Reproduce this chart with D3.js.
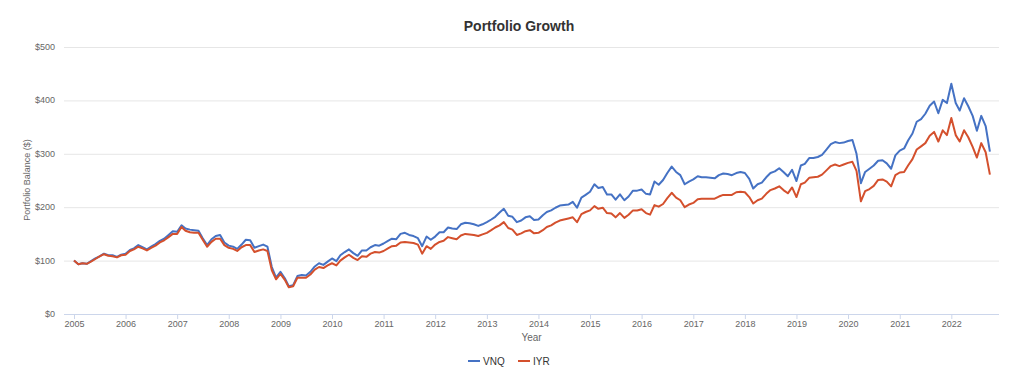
<!DOCTYPE html>
<html lang="en">
<head>
<meta charset="UTF-8">
<title>Portfolio Growth</title>
<script src="https://d3js.org/d3.v7.min.js"></script>
<style>
    body { margin: 0; padding: 0; background: #fff; font-family: "Liberation Sans", Arial, sans-serif; }
    .grid line { stroke: #e6e6e6; }
    .tick-label { font-size: 9px; fill: #666; }
    .title { font-size: 14px; font-weight: bold; fill: #333; }
    .axis-title { font-size: 9px; fill: #666; }
    .legend text { font-size: 10px; fill: #333; }
</style>
</head>
<body>
<div id="chart"></div>
<script>
    // monthly balances, first value = start of Jan 2005, one row per year
    const vnq = [
        100, 93, 95, 94, 99, 104, 108, 113, 110, 110, 107, 111,
        113, 120, 123, 129, 125, 121, 126, 131, 137, 141, 148, 155,
        154, 166, 160, 158, 157, 156, 142, 129, 140, 146, 148, 134,
        128, 126, 122, 130, 139, 138, 124, 127, 130, 126, 88, 68,
        79, 67, 52, 54, 71, 73, 72, 79, 89, 95, 92, 98,
        104, 99, 110, 116, 121, 114, 109, 119, 119, 125, 129, 128,
        132, 137, 141, 140, 150, 152, 148, 146, 142, 127, 145, 139,
        145, 153, 153, 162, 160, 159, 168, 171, 170, 168, 165, 168,
        172, 177, 182, 190, 197, 184, 182, 172, 175, 181, 183, 176,
        177, 185, 191, 194, 199, 203, 204, 205, 210, 199, 218, 223,
        229, 243, 236, 238, 224, 224, 214, 224, 213, 220, 231, 231,
        233, 225, 224, 248, 242, 251, 264, 276, 266, 260, 243, 248,
        252, 258, 256, 256, 255, 254, 260, 263, 262, 260, 264, 266,
        264, 253, 235, 243, 246, 256, 264, 267, 273, 266, 258, 270,
        249, 278, 281, 292, 292, 294, 298, 308, 318, 322, 320, 321,
        324, 326, 300, 245, 266, 272, 278, 287, 288, 282, 272, 297,
        306, 310, 325, 338, 360, 365, 375, 390, 398, 376, 401, 395,
        431, 395, 381, 404, 389, 371, 343, 371, 352, 304
    ];
    const iyr = [
        100, 93, 95, 94, 98, 103, 108, 112, 109, 108, 106, 110,
        111, 118, 121, 126, 123, 119, 124, 128, 134, 138, 144, 150,
        150, 163, 156, 153, 152, 152, 139, 126, 135, 141, 141, 129,
        124, 122, 118, 125, 129, 129, 116, 119, 121, 118, 82, 65,
        75, 64, 50, 52, 68, 68, 68, 74, 83, 88, 86, 91,
        95, 91, 100, 106, 111, 105, 101, 108, 107, 113, 116, 115,
        118, 123, 127, 128, 134, 135, 134, 133, 130, 113, 127, 122,
        130, 135, 137, 144, 142, 140, 147, 150, 149, 148, 146, 149,
        152, 157, 162, 166, 172, 161, 158, 148, 151, 155, 157, 151,
        152, 157, 163, 166, 171, 175, 177, 179, 181, 172, 187, 191,
        194, 202, 197, 199, 189, 188, 181, 189, 180, 186, 194, 194,
        196, 189, 186, 204, 201, 206, 217, 227, 218, 213, 200, 205,
        208, 215, 216, 216, 216, 216, 220, 223, 223, 223, 228, 229,
        228, 219, 207, 213, 216, 225, 232, 235, 239, 232, 226, 237,
        219, 243, 246, 255, 256, 257, 261, 269, 277, 280, 277, 280,
        283, 285, 268, 211, 230, 234, 240, 251, 252, 248, 239, 260,
        265, 266, 278, 290, 308, 314, 320, 334, 341, 323, 344, 335,
        367, 335, 323, 344, 331, 313, 293, 320, 303, 261
    ];
    const seriesNames = ["VNQ", "IYR"];
    const seriesColors = ["#4572c4", "#d4502d"];
    const yTicks = [0, 100, 200, 300, 400, 500];
    const xTickYears = d3.range(2005, 2023);

    const W = 1024, H = 375;
    const plotLeft = 64, plotRight = 999, plotTop = 47, plotBottom = 314;

    const svg = d3.select("#chart").append("svg")
        .attr("width", W).attr("height", H);

    const monthDate = i => new Date(2005, i, 1);
    const x = d3.scaleTime()
        .domain([monthDate(0), monthDate(vnq.length - 1)])
        .range([74, 74 + 4.3 * (vnq.length - 1)]);
    const y = d3.scaleLinear().domain([0, 500]).range([plotBottom, plotTop]);

    // title
    svg.append("text").attr("class", "title")
        .attr("x", 519).attr("y", 31).attr("text-anchor", "middle")
        .text("Portfolio Growth");

    // horizontal grid
    svg.append("g").attr("class", "grid")
        .selectAll("line").data(yTicks.slice(1)).join("line")
        .attr("x1", plotLeft).attr("x2", plotRight)
        .attr("y1", d => y(d) + 0.5).attr("y2", d => y(d) + 0.5);

    // y labels
    svg.append("g").selectAll("text").data(yTicks).join("text")
        .attr("class", "tick-label")
        .attr("x", 55).attr("y", d => y(d) + 3)
        .attr("text-anchor", "end")
        .text(d => "$" + d);

    svg.append("text").attr("class", "axis-title")
        .attr("transform", "translate(30,180) rotate(-90)")
        .attr("text-anchor", "middle")
        .text("Portfolio Balance ($)");

    // x axis
    const xAxis = d3.axisBottom(x)
        .tickValues(xTickYears.map(yr => new Date(yr, 0, 1)))
        .tickFormat(d3.timeFormat("%Y"))
        .tickSize(5).tickSizeOuter(0);
    const gx = svg.append("g").attr("transform", `translate(0,${plotBottom})`).call(xAxis);
    gx.select(".domain").remove();
    gx.selectAll(".tick line").attr("stroke", "#ccd6eb");
    gx.selectAll(".tick text").attr("class", "tick-label").attr("dy", "0.9em").attr("y", 5);
    gx.append("line").attr("x1", plotLeft).attr("x2", plotRight)
        .attr("y1", 0.5).attr("y2", 0.5).attr("stroke", "#ccd6eb");

    svg.append("text").attr("class", "axis-title")
        .attr("x", (plotLeft + plotRight) / 2).attr("y", 341).attr("text-anchor", "middle")
        .style("font-size", "10px")
        .text("Year");

    // lines
    const line = d3.line()
        .x((d, i) => x(monthDate(i)))
        .y(d => y(d));
    [vnq, iyr].forEach((s, k) => {
        svg.append("path")
            .datum(s)
            .attr("fill", "none")
            .attr("stroke", seriesColors[k])
            .attr("stroke-width", 2)
            .attr("stroke-linejoin", "round")
            .attr("d", line);
    });

    // legend
    const legend = svg.append("g").attr("class", "legend");
    const legendX = [468, 518];
    seriesNames.forEach((name, k) => {
        legend.append("line")
            .attr("x1", legendX[k]).attr("x2", legendX[k] + 12)
            .attr("y1", 361).attr("y2", 361)
            .attr("stroke", seriesColors[k]).attr("stroke-width", 2);
        legend.append("text")
            .attr("x", legendX[k] + 15).attr("y", 364.5)
            .text(name);
    });
</script>
</body>
</html>
